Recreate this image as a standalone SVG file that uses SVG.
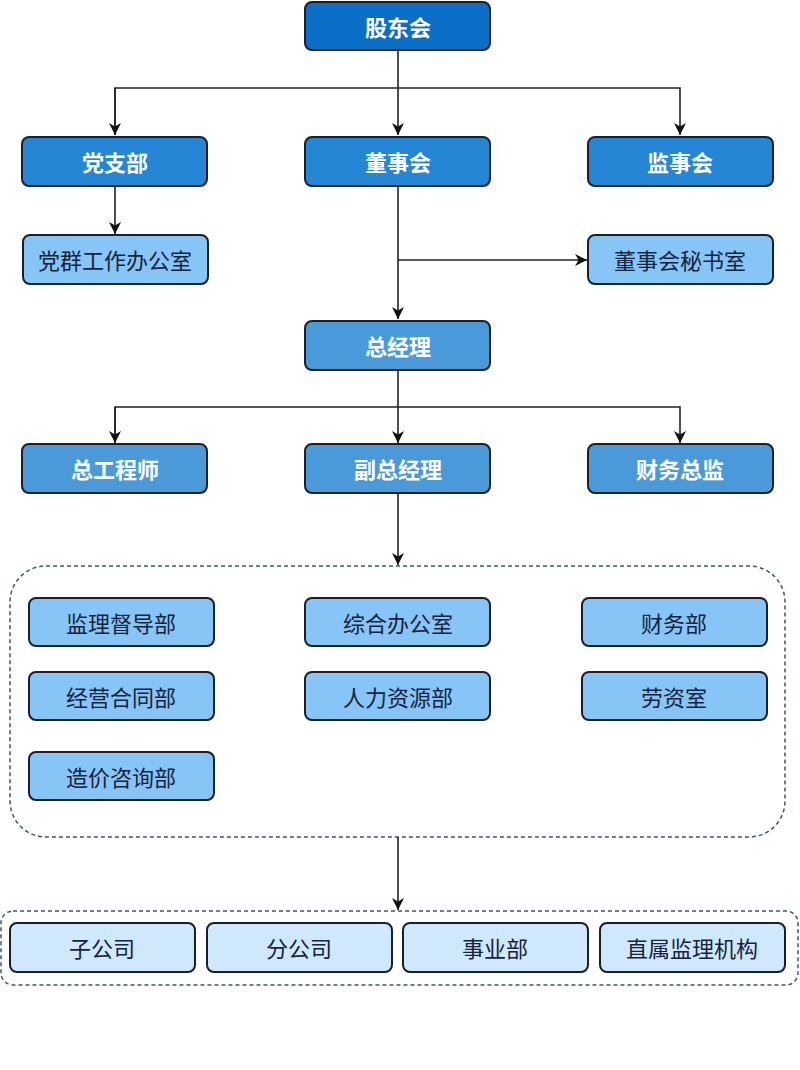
<svg xmlns="http://www.w3.org/2000/svg" width="800" height="1070" viewBox="0 0 800 1070">
<defs>
<marker id="arr" viewBox="0 0 10 10" refX="10" refY="5" markerWidth="12" markerHeight="12" markerUnits="userSpaceOnUse" orient="auto">
<path d="M0,0 L10,5 L0,10 L3,5 Z" fill="#111"/>
</marker>
<style>
.box{stroke:#1b1f2a;stroke-width:2}
.l1{fill:#0b6fc8}
.l2{fill:#2586d6}
.l3{fill:#4a9ad9}
.l4{fill:#86c5f6}
.l5{fill:#cfe8fb}
.tb{font-family:"Noto Sans CJK SC","Noto Sans",sans-serif;font-size:22px;font-weight:bold;fill:#fff;text-anchor:middle;dominant-baseline:central}
.tn{font-family:"Noto Sans CJK SC","Noto Sans",sans-serif;font-size:22px;fill:#15233d;text-anchor:middle;dominant-baseline:central}
.con{stroke:#222;stroke-width:1.6;fill:none}
.grp{fill:none;stroke:#3d5a66;stroke-width:1.5;stroke-dasharray:4 3}
</style>
</defs>
<rect width="800" height="1070" fill="#fff"/>
<g id="containers">
<rect class="grp" x="10" y="566" width="775" height="271" rx="36"/>
<rect class="grp" x="1" y="911" width="797" height="74" rx="12"/>
</g>
<g id="connectors">
<path class="con" d="M398,50 V135" marker-end="url(#arr)"/>
<path class="con" d="M115,135 V88 H680 V135" marker-end="url(#arr)"/>
<path class="con" d="M115,88 V135" marker-end="url(#arr)"/>
<path class="con" d="M115,186 V234" marker-end="url(#arr)"/>
<path class="con" d="M398,186 V319" marker-end="url(#arr)"/>
<path class="con" d="M398,260 H587" marker-end="url(#arr)"/>
<path class="con" d="M398,370 V443" marker-end="url(#arr)"/>
<path class="con" d="M115,443 V407 H680 V443" marker-end="url(#arr)"/>
<path class="con" d="M115,407 V443" marker-end="url(#arr)"/>
<path class="con" d="M398,493 V565" marker-end="url(#arr)"/>
<path class="con" d="M398,837 V910" marker-end="url(#arr)"/>
</g>
<g id="n-gudonghui"><rect class="box l1" x="305" y="2" width="185" height="48" rx="7"/><text class="tb" x="398" y="26">股东会</text></g>
<g id="n-dangzhibu"><rect class="box l2" x="22" y="137" width="185" height="49" rx="7"/><text class="tb" x="115" y="161">党支部</text></g>
<g id="n-dongshihui"><rect class="box l2" x="305" y="137" width="185" height="49" rx="7"/><text class="tb" x="398" y="161">董事会</text></g>
<g id="n-jianshihui"><rect class="box l2" x="588" y="137" width="185" height="49" rx="7"/><text class="tb" x="680" y="161">监事会</text></g>
<g id="n-dangqun"><rect class="box l4" x="23" y="235" width="185" height="49" rx="7"/><text class="tn" x="115" y="259">党群工作办公室</text></g>
<g id="n-mishu"><rect class="box l4" x="588" y="235" width="185" height="49" rx="7"/><text class="tn" x="680" y="259">董事会秘书室</text></g>
<g id="n-zongjingli"><rect class="box l3" x="305" y="321" width="185" height="49" rx="7"/><text class="tb" x="398" y="345">总经理</text></g>
<g id="n-zonggong"><rect class="box l3" x="22" y="444" width="185" height="49" rx="7"/><text class="tb" x="115" y="468">总工程师</text></g>
<g id="n-fuzong"><rect class="box l3" x="305" y="444" width="185" height="49" rx="7"/><text class="tb" x="398" y="468">副总经理</text></g>
<g id="n-caiwuzongjian"><rect class="box l3" x="588" y="444" width="185" height="49" rx="7"/><text class="tb" x="680" y="468">财务总监</text></g>
<g id="n-jianli"><rect class="box l4" x="29" y="598" width="185" height="48" rx="7"/><text class="tn" x="121" y="622">监理督导部</text></g>
<g id="n-zonghe"><rect class="box l4" x="305" y="598" width="185" height="48" rx="7"/><text class="tn" x="398" y="622">综合办公室</text></g>
<g id="n-caiwubu"><rect class="box l4" x="582" y="598" width="185" height="48" rx="7"/><text class="tn" x="674" y="622">财务部</text></g>
<g id="n-jingying"><rect class="box l4" x="29" y="672" width="185" height="48" rx="7"/><text class="tn" x="121" y="696">经营合同部</text></g>
<g id="n-renli"><rect class="box l4" x="305" y="672" width="185" height="48" rx="7"/><text class="tn" x="398" y="696">人力资源部</text></g>
<g id="n-laozi"><rect class="box l4" x="582" y="672" width="185" height="48" rx="7"/><text class="tn" x="674" y="696">劳资室</text></g>
<g id="n-zaojia"><rect class="box l4" x="29" y="752" width="185" height="48" rx="7"/><text class="tn" x="121" y="776">造价咨询部</text></g>
<g id="n-zigongsi"><rect class="box l5" x="10" y="923" width="185" height="49" rx="7"/><text class="tn" x="102" y="947">子公司</text></g>
<g id="n-fengongsi"><rect class="box l5" x="207" y="923" width="185" height="49" rx="7"/><text class="tn" x="299" y="947">分公司</text></g>
<g id="n-shiyebu"><rect class="box l5" x="403" y="923" width="185" height="49" rx="7"/><text class="tn" x="495" y="947">事业部</text></g>
<g id="n-zhishu"><rect class="box l5" x="600" y="923" width="185" height="49" rx="7"/><text class="tn" x="692" y="947">直属监理机构</text></g>
</svg>
